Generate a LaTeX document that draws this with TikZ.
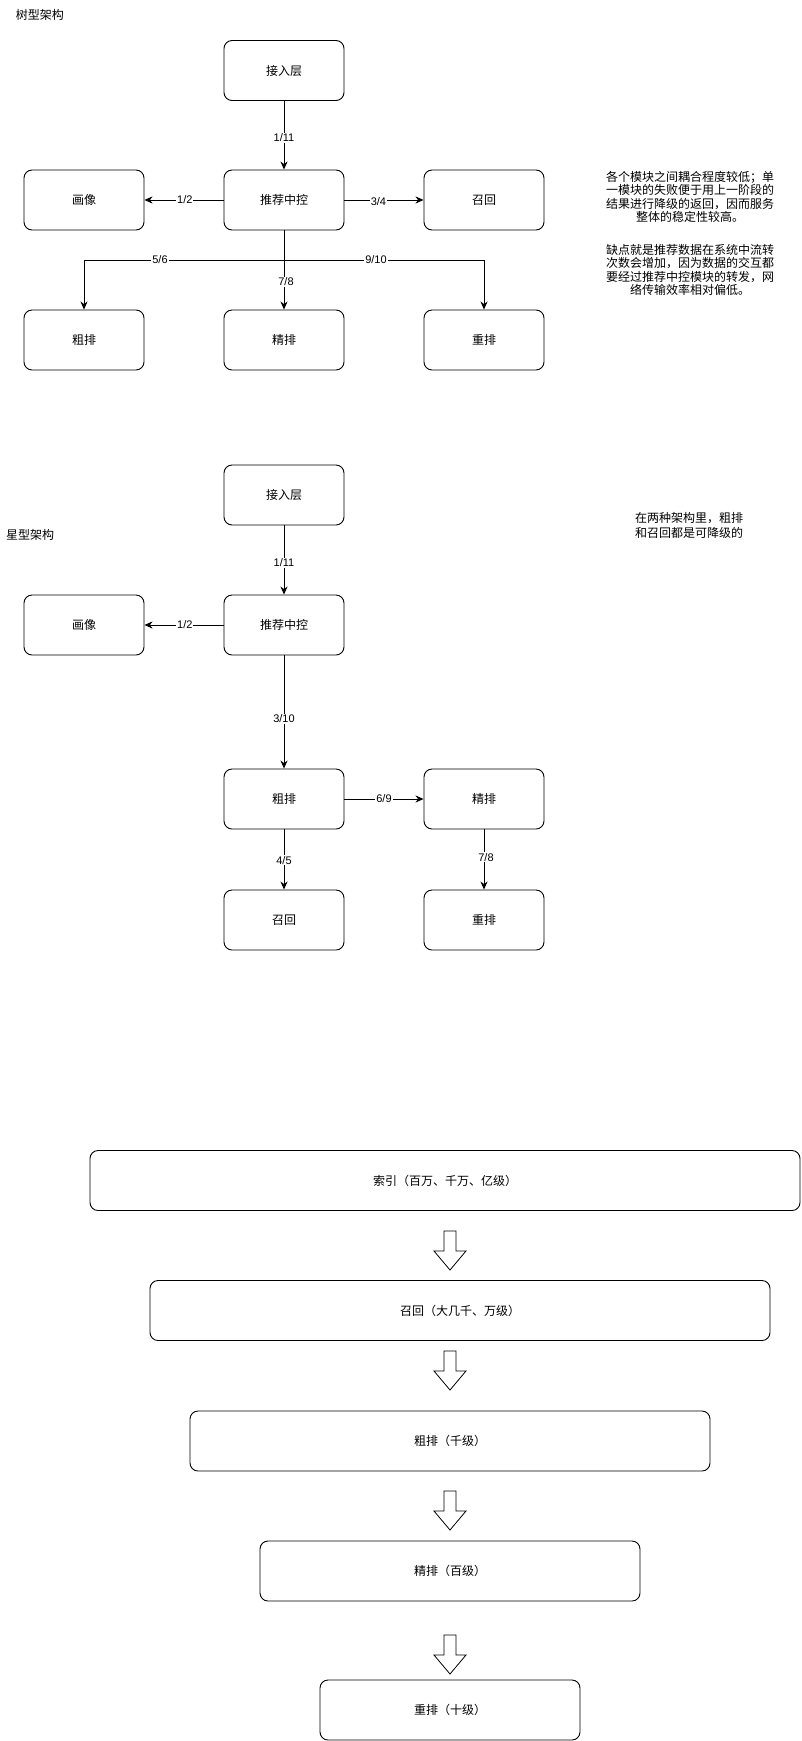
\documentclass[tikz,border=0pt]{standalone}
\usepackage{fontspec}
\setmainfont{Liberation Sans}
\newfontfamily\cjk{Noto Sans CJK SC}
\usetikzlibrary{arrows.meta}
\tikzset{
  box/.style={draw, rounded corners=8pt, minimum width=120pt, minimum height=60pt, inner sep=0pt, font=\cjk\fontsize{12}{14}\selectfont, line width=0.9pt},
  lbl/.style={fill=white, inner sep=1pt, font=\fontsize{11}{12}\selectfont},
  arr/.style={-{Stealth[length=8pt,width=7pt,inset=2.5pt]}, line width=0.9pt},
  note/.style={font=\cjk\fontsize{12}{13.6}\selectfont, align=center, inner sep=0pt},
  ttl/.style={font=\cjk\fontsize{12}{14}\selectfont, inner sep=0pt},
  barrow/.pic={\draw[line width=0.8pt, line join=miter] (-6,0) -- (6,0) -- (6,20) -- (16,20) -- (0,39) -- (-16,20) -- (-6,20) -- cycle;}
}
\begin{document}
\begin{tikzpicture}[x=1pt,y=-1pt]
\useasboundingbox (0,0) rectangle (801,1741);

% ---------- tree architecture ----------
\node[ttl] (t1) at (40,15) {树型架构};
\node[box] (a1) at (284,70.5) {接入层};
\node[box] (c1) at (284,200) {推荐中控};
\node[box] (hx1) at (84,200) {画像};
\node[box] (zh1) at (484,200) {召回};
\node[box] (cp1) at (84,340) {粗排};
\node[box] (jp1) at (284,340) {精排};
\node[box] (cpx1) at (484,340) {重排};
\coordinate (j1) at (284,260);

\draw[arr] (a1) -- node[lbl,pos=0.54]{1/11} (c1);
\draw[arr] (c1) -- node[lbl,pos=0.49]{1/2} (hx1);
\draw[arr] (c1) -- node[lbl,pos=0.43,yshift=-2pt]{3/4} (zh1);
\draw[arr] (c1.south) -- (j1) -| node[lbl,pos=0.31]{5/6} (cp1.north);
\draw[arr] (c1) -- node[lbl,pos=0.65,xshift=2pt]{7/8} (jp1);
\draw[arr] (c1.south) -- (j1) -| node[lbl,pos=0.23]{9/10} (cpx1.north);

\node[note] (n1) at (690,197) {各个模块之间耦合程度较低；单\\一模块的失败便于用上一阶段的\\结果进行降级的返回，因而服务\\整体的稳定性较高。};
\node[note] (n2) at (690,270) {缺点就是推荐数据在系统中流转\\次数会增加，因为数据的交互都\\要经过推荐中控模块的转发，网\\络传输效率相对偏低。};

% ---------- star architecture ----------
\node[ttl] (t2) at (30,535) {星型架构};
\node[box] (a2) at (284,495) {接入层};
\node[box] (c2) at (284,625) {推荐中控};
\node[box] (hx2) at (84,625) {画像};
\node[box] (cp2) at (284,799) {粗排};
\node[box] (jp2) at (484,799) {精排};
\node[box] (zh2) at (284,920) {召回};
\node[box] (cpx2) at (484,920) {重排};

\draw[arr] (a2) -- node[lbl,pos=0.54]{1/11} (c2);
\draw[arr] (c2) -- node[lbl,pos=0.49]{1/2} (hx2);
\draw[arr] (c2) -- node[lbl,pos=0.56]{3/10} (cp2);
\draw[arr] (cp2) -- node[lbl,pos=0.5]{6/9} (jp2);
\draw[arr] (cp2) -- node[lbl,pos=0.51]{4/5} (zh2);
\draw[arr] (jp2) -- node[lbl,pos=0.46,xshift=2pt]{7/8} (cpx2);

\node[note, font=\cjk\fontsize{12}{15}\selectfont] (n3) at (689,525.5) {在两种架构里，粗排\\和召回都是可降级的};

% ---------- funnel ----------
\node[box, minimum width=710pt] (f1) at (445,1180.5) {索引（百万、千万、亿级）};
\node[box, minimum width=620pt] (f2) at (460,1310.5) {召回（大几千、万级）};
\node[box, minimum width=520pt] (f3) at (450,1441) {粗排（千级）};
\node[box, minimum width=380pt] (f4) at (450,1571) {精排（百级）};
\node[box, minimum width=260pt] (f5) at (450,1710) {重排（十级）};

\pic at (450,1231) {barrow};
\pic at (450,1351) {barrow};
\pic at (450,1491) {barrow};
\pic at (450,1635) {barrow};
\end{tikzpicture}
\end{document}
